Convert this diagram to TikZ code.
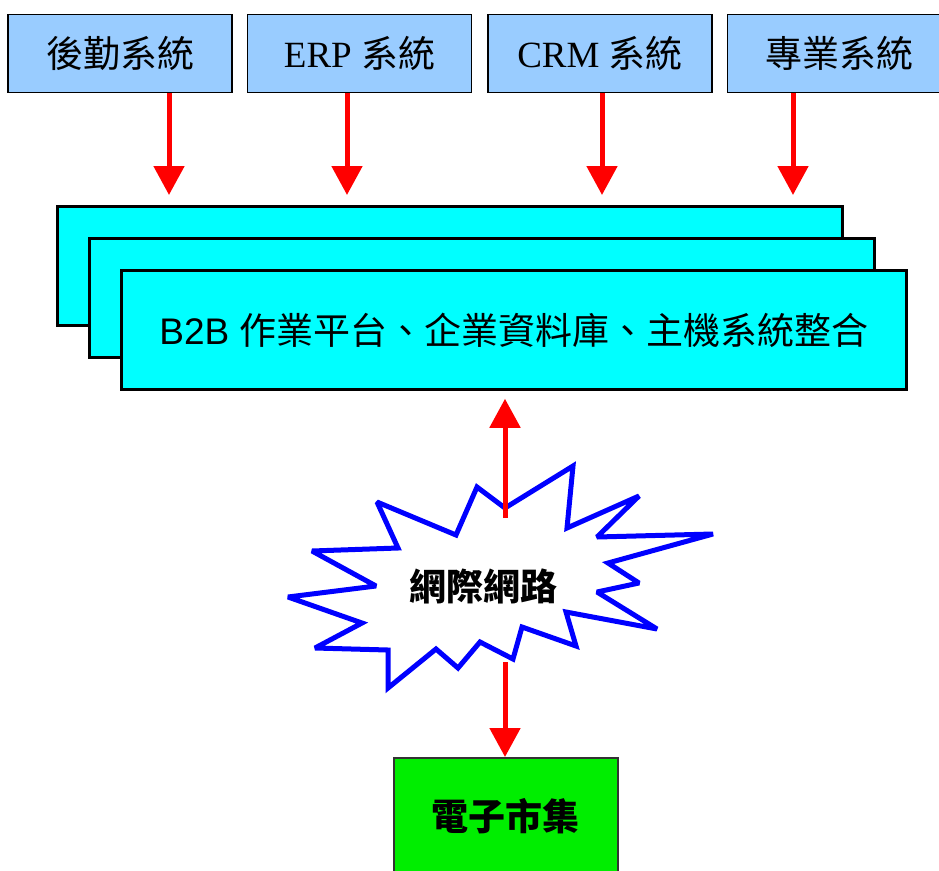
\documentclass[tikz,border=0pt]{standalone}
\usepackage{fontspec}
\setmainfont{Liberation Serif}
\setsansfont{Liberation Sans}
\newfontfamily\cjk{Noto Sans CJK TC}
\usetikzlibrary{arrows.meta}

\definecolor{sysblue}{RGB}{153,204,255}
\definecolor{platcyan}{RGB}{0,255,255}
\definecolor{marketgreen}{RGB}{0,238,0}

\begin{document}
\begin{tikzpicture}[x=1pt, y=-1pt,
    arrow/.style={-{Triangle[length=29pt, width=30pt]}, line width=5pt, red},
    sysbox/.style={draw=black, line width=1.5pt, fill=sysblue, minimum width=224pt, minimum height=78pt, inner sep=0pt, font=\fontsize{37}{40}\selectfont},
    platbox/.style={draw=black, line width=2.5pt, fill=platcyan, minimum width=785pt, minimum height=119pt, inner sep=0pt, font=\fontsize{37}{42}\selectfont},
    marketbox/.style={draw=black!80, line width=2pt, fill=marketgreen, minimum width=224pt, minimum height=116pt, inner sep=0pt, font=\cjk\bfseries\fontsize{37}{42}\selectfont},
    label/.style={font=\cjk\bfseries\fontsize{37}{42}\selectfont}
]
    \useasboundingbox (0,0) rectangle (939,870);

    % Source systems
    \node[sysbox] (sys1) at (120,53.5) {\cjk 後勤系統};
    \node[sysbox] (sys2) at (359.5,53.5) {ERP {\cjk 系統}};
    \node[sysbox] (sys3) at (600,53.5) {CRM {\cjk 系統}};
    \node[sysbox] (sys4) at (839.5,53.5) {\cjk 專業系統};

    % Stacked integration platform
    \node[platbox] (plat1) at (450,266) {};
    \node[platbox] (plat2) at (482,298) {};
    \node[platbox] (plat3) at (514,330) {\sffamily B2B {\cjk 作業平台、企業資料庫、主機系統整合}};

    % Arrow tips above the platform
    \coordinate (in1) at (169,195);
    \coordinate (in2) at (347,195);
    \coordinate (in3) at (602,195);
    \coordinate (in4) at (793,195);
    \draw[arrow] (sys1.south -| in1) -- (in1);
    \draw[arrow] (sys2.south -| in2) -- (in2);
    \draw[arrow] (sys3.south -| in3) -- (in3);
    \draw[arrow] (sys4.south -| in4) -- (in4);

    % Internet burst
    \draw[blue, line width=5pt, fill=white, miter limit=2.5]
        (477,487) -- (505,508) -- (573,466) -- (567,528) -- (639,496)
        -- (597,537) -- (713,534) -- (608,563) -- (639,583) -- (597,592)
        -- (657,629) -- (566,612) -- (576,646) -- (522,627) -- (513,659)
        -- (480,642) -- (458,668) -- (436,649) -- (388,688) -- (388,650)
        -- (315,648) -- (362,623) -- (288,597) -- (376,586) -- (312,551)
        -- (398,548) -- (377,502) -- (456,535) -- cycle;
    \node[label] (net) at (483,586) {網際網路};

    % Electronic marketplace
    \node[marketbox] (market) at (505.5,816) {電子市集};

    % Links through the internet
    \coordinate (netup) at (505,518);
    \coordinate (netdown) at (505,662);
    \draw[arrow, shorten >=8pt] (netup) -- (netup |- plat3.south);
    \draw[arrow] (netdown) -- (netdown |- market.north);

\end{tikzpicture}
\end{document}
